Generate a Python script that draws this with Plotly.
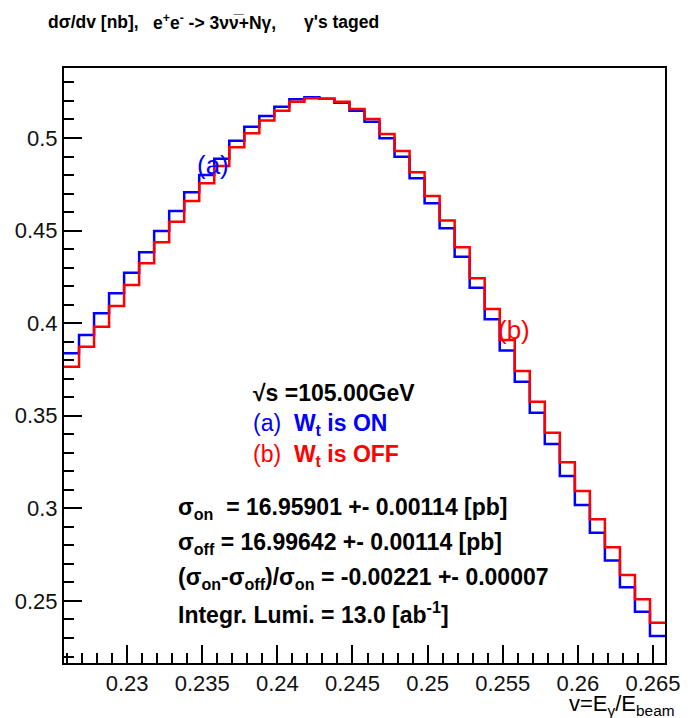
import plotly.graph_objects as go

# ---------------- data ----------------
bin_start = 0.2258
bin_width = 0.001
n_bins = 40

wt_on = [0.3837, 0.3936, 0.4053, 0.4161, 0.4273, 0.4383, 0.4498, 0.4606, 0.4707, 0.4800,
         0.4888, 0.4985, 0.5061, 0.5119, 0.5169, 0.5209, 0.5220, 0.5212, 0.5191, 0.5147,
         0.5088, 0.4998, 0.4899, 0.4782, 0.4647, 0.4512, 0.4359, 0.4192, 0.4021, 0.3852,
         0.3684, 0.3517, 0.3348, 0.3175, 0.3018, 0.2869, 0.2718, 0.2574, 0.2442, 0.2311]

wt_off = [0.3765, 0.3873, 0.3981, 0.4093, 0.4206, 0.4323, 0.4437, 0.4548, 0.4660, 0.4755,
          0.4849, 0.4950, 0.5025, 0.5094, 0.5147, 0.5196, 0.5214, 0.5212, 0.5196, 0.5157,
          0.5103, 0.5022, 0.4930, 0.4815, 0.4687, 0.4555, 0.4410, 0.4242, 0.4077, 0.3909,
          0.3742, 0.3576, 0.3409, 0.3249, 0.3094, 0.2941, 0.2790, 0.2640, 0.2509, 0.2383]

x_range = [0.2258, 0.2658]
y_range = [0.2165, 0.5378]

edges = [round(bin_start + i * bin_width, 6) for i in range(n_bins + 1)]

FONT = "Liberation Sans, Arial, Helvetica, sans-serif"
W, H = 692, 718
L, R, T, B = 64, 20, 68, 55
PW, PH = W - L - R, H - T - B


def px(x):
    return (x - L) / PW


def py(y):
    return (H - B - y) / PH


fig = go.Figure()
fig.add_trace(go.Scatter(x=edges, y=wt_on + [wt_on[-1]], mode="lines", line_shape="hv",
                         line=dict(color="#0000ff", width=2.5), showlegend=False))
fig.add_trace(go.Scatter(x=edges, y=wt_off + [wt_off[-1]], mode="lines", line_shape="hv",
                         line=dict(color="#ff0000", width=2.5), showlegend=False))

ann = []


def text(x, y, s, size=19, color="black", anchor="left", family=FONT, yanchor="middle"):
    ann.append(dict(x=px(x), y=py(y), xref="paper", yref="paper", text=s, showarrow=False,
                    xanchor=anchor, yanchor=yanchor, font=dict(family=family, size=size, color=color)))


# title, split into its three parts
text(46, 22, "<b>dσ/dv [nb],</b>", size=17.5)
text(152, 22, "<b>e<sup>+</sup>e<sup>-</sup> -&gt; 3νν\u0305+Nγ,</b>", size=17.5)
text(305, 22, "<b>γ's taged</b>", size=17.5)

text(215, 165, "(a)", size=26, color="#0000ff", anchor="center")
text(519, 330, "(b)", size=26, color="#ff0000", anchor="center")
text(253, 393, "<b>√s =105.00GeV</b>", size=23)
text(253, 424, "(a)  <b>W<sub>t</sub> is ON</b>", size=23, color="#0000ff")
text(253, 455, "(b)  <b>W<sub>t</sub> is OFF</b>", size=23, color="#ff0000")
text(177, 508, "<b>σ<sub>on</sub>  = 16.95901 +- 0.00114 [pb]</b>", size=23)
text(177, 543, "<b>σ<sub>off</sub> = 16.99642 +- 0.00114 [pb]</b>", size=23)
text(177, 578, "<b>(σ<sub>on</sub>-σ<sub>off</sub>)/σ<sub>on</sub> = -0.00221 +- 0.00007</b>", size=23)
text(177, 613, "<b>Integr. Lumi. = 13.0 [ab<sup>-1</sup>]</b>", size=23)
text(684, 721, "v=E<sub>γ</sub>/E<sub>beam</sub>", size=22, anchor="right", yanchor="bottom")

fig.update_layout(
    width=W, height=H, margin=dict(l=L, r=R, t=T, b=B),
    paper_bgcolor="white", plot_bgcolor="white",
    font=dict(family=FONT, size=22, color="#111"),
    annotations=ann,
)
fig.update_xaxes(range=x_range, showgrid=False, zeroline=False, showline=True, mirror=True,
                 linecolor="black", linewidth=2, ticks="inside", ticklen=18, tickwidth=2,
                 tickcolor="black", tick0=0, dtick=0.005, tickfont=dict(size=22),
                 minor=dict(ticks="inside", ticklen=10, tickwidth=2, tickcolor="black", dtick=0.001, tick0=0,
                            showgrid=False))
fig.update_yaxes(range=y_range, showgrid=False, zeroline=False, showline=True, mirror=True,
                 linecolor="black", linewidth=2, ticks="inside", ticklen=18, tickwidth=2,
                 tickcolor="black", tick0=0, dtick=0.05, tickfont=dict(size=22),
                 minor=dict(ticks="inside", ticklen=10, tickwidth=2, tickcolor="black", dtick=0.01, tick0=0,
                            showgrid=False))

fig.write_html("out.html")
